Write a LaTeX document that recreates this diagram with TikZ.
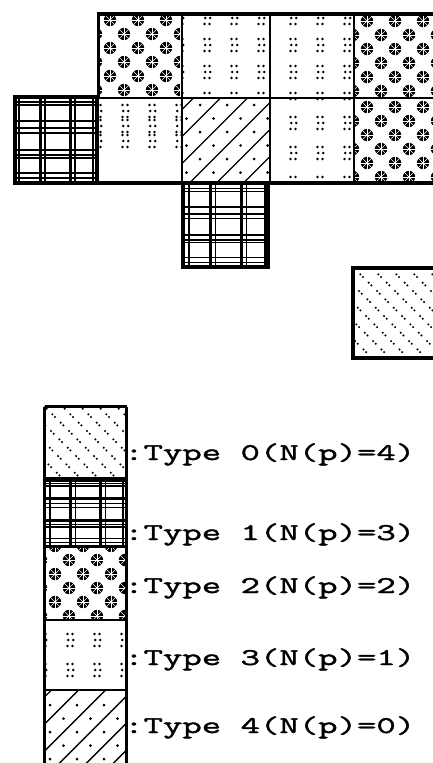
\documentclass[tikz,border=0pt]{standalone}
\usepackage{fontspec}
\newfontfamily\lblfont[FakeStretch=1.57, FakeBold=1.8]{Latin Modern Mono}
\tikzset{
  flower/.pic={\fill (0,0) circle (6.2);
    \foreach \a in {0,45,90,135}{\draw[white, line width=0.45pt] (\a:7) -- (\a+180:7);}
    \fill[white] (0,0) circle (1.1);},
  clus/.pic={\foreach \yy/\xx in {-6/0,0/0.8,6/0}{\fill (\xx-2.5,\yy) circle (1.35); \fill (\xx+2.5,\yy) circle (1.35);}},
  lbl/.style={font=\lblfont\fontsize{24}{24}\selectfont, anchor=base west, inner sep=0pt},
  plaidline/.style={line width=#1},
}
% type 2 : flowers
\newcommand\patTwo[6]{\begin{scope}\clip (#1,#2) rectangle ++(#3,#4);
 \foreach \i in {-1,...,4}{\foreach \j in {-1,...,4}{
   \pic at ({#1+#5+28*\i},{#2+#6+28*\j}) {flower};
   \pic at ({#1+#5+14+28*\i},{#2+#6+14+28*\j}) {flower};}}
 \end{scope}}
% type 3 : dot clusters
\newcommand\patThree[8]{\begin{scope}\clip (#1,#2) rectangle ++(#3,#4);
 \foreach \i in {0,...,4}{\foreach \j in {0,...,6}{
   \pic at ({#1+#5+#7*\i},{#2+#6+#8*\j}) {clus};}}
 \end{scope}}
% type 4 : lines and dots
\newcommand\patFour[6]{\begin{scope}\clip (#1,#2) rectangle ++(#3,#4);
 \foreach \k in {-1,...,8}{\draw[line width=1.4pt] ({#1+#5+#6+13.5+27*\k},{#2}) -- ++(-130,130);}
 \foreach \i in {-1,...,4}{\foreach \j in {0,...,7}{\fill ({#1+#5+27*\i+13.5*mod(\j,2)},{#2+#6+13.5*\j}) circle (1.5);}}
 \end{scope}}
% type 0 : dotted diagonals
\newcommand\patZero[5]{\begin{scope}\clip (#1,#2) rectangle ++(#3,#4);
 \foreach \k in {-7,...,6}{\draw[line width=2.3pt, line cap=round, dash pattern=on 0pt off 3.8pt on 0pt off 8pt] ({#1+#5+18*\k},{#2}) -- ++(110,110);}
 \end{scope}}
% type 1 : plaid
\newcommand\patOne[4]{\begin{scope}[shift={(#1,#2)}, xscale=#3/84, yscale=#4/88]
 \foreach \v/\w in {6/1.5,27/3,32/1.2,57/3,62/1.2,80/2.2}{\draw[plaidline=\w pt] (\v,0) -- (\v,88);}
 \foreach \u/\w in {6/1.2,9/1.2,25/2.6,32/1.2,37/1.2,54/2.6,59/1.2,62/1.2,77/1.4,82/1.4}{\draw[plaidline=\w pt] (0,\u) -- (84,\u);}
 \end{scope}}
\begin{document}
\begin{tikzpicture}[x=1pt,y=-1pt]
\useasboundingbox (0,0) rectangle (433,763);
\clip (0,0) rectangle (433,763);
% ---- top grid patterns
\patTwo{97}{12}{85}{86}{13}{8}
\patThree{182}{12}{88}{86}{-2}{6}{27}{27}
\patThree{270}{12}{84}{86}{-4}{6}{27}{27}
\patTwo{354}{12}{86}{86}{13}{9}
\patOne{13}{96}{84}{88}
\begin{scope}\clip (97,98) rectangle (182,150);
 \foreach \xx in {98,125,152,179}{\foreach \yy in {111,126,141}{\pic at (\xx,\yy) {clus};}}
\end{scope}
\patFour{182}{98}{88}{86}{18}{7}
\patThree{270}{98}{84}{86}{-4}{-5}{27}{30}
\patTwo{354}{98}{86}{86}{13}{9}
\patOne{183}{183}{86}{85}
\patZero{352}{266}{90}{92}{0}
% ---- top grid borders
\draw[line width=4pt] (97,13.5) -- (440,13.5);
\draw[line width=3pt] (98.5,12) -- (98.5,98);
\draw[line width=2pt] (97,98) -- (440,98);
\foreach \xx in {182,270,354}{\draw[line width=2pt] (\xx,12) -- (\xx,184);}
\draw[line width=4pt] (97,182.5) -- (440,182.5);
\draw[line width=4pt] (14.5,96.5) rectangle (97,182.5);
\draw[line width=4pt] (183,182.5) rectangle (268,267);
\draw[line width=4pt] (352.5,267.5) rectangle (445,357.5);
% ---- legend patterns
\patZero{44}{406}{83}{73}{0}
\patOne{44}{479}{83}{68}
\patTwo{44}{547}{83}{73}{11}{-1}
\patThree{44}{620}{83}{70}{-1}{20}{27}{30}
\patFour{44}{690}{83}{80}{6}{15}
% ---- legend borders
\draw[line width=2.5pt] (44.5,406.5) -- (44.5,770);
\draw[line width=2.5pt] (126.5,406.5) -- (126.5,770);
\draw[line width=2.5pt] (44.5,406.5) -- (126.5,406.5);
\draw[line width=4.5pt] (44.5,479.5) -- (126.5,479.5);
\draw[line width=3pt] (44.5,546.5) -- (126.5,546.5);
\draw[line width=2.5pt] (44.5,620) -- (126.5,620);
\draw[line width=2.5pt] (44.5,690) -- (126.5,690);
% ---- labels
\node[lbl] (l0) at (124,460) {:Type 0(N(p)=4)};
\node[lbl] (l1) at (124,540) {:Type 1(N(p)=3)};
\node[lbl] (l2) at (124,593) {:Type 2(N(p)=2)};
\node[lbl] (l3) at (124,665) {:Type 3(N(p)=1)};
\node[lbl] (l4) at (124,733) {:Type 4(N(p)=0)};
\end{tikzpicture}
\end{document}
